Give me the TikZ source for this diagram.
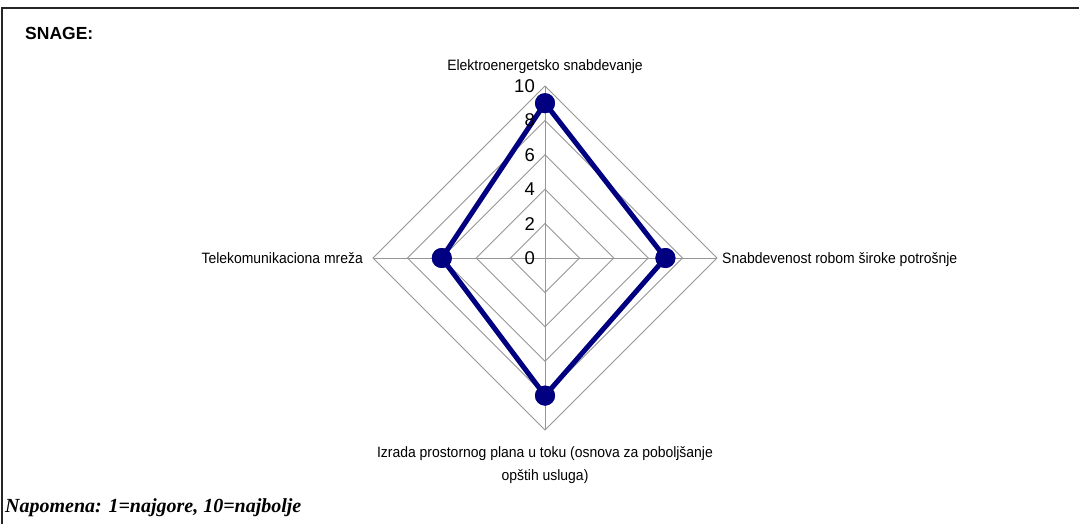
\documentclass[tikz,border=0pt]{standalone}
\usepackage{fontspec}
\setmainfont{Liberation Sans}
\newfontfamily\labfont[FakeStretch=0.93]{Liberation Sans}
\newfontfamily\notefont{Liberation Serif}
\definecolor{gridgray}{RGB}{150,150,150}
\definecolor{seriesblue}{RGB}{0,0,128}
\tikzset{
  frameline/.style={draw=black!85, line width=1.8pt},
  gridline/.style={draw=gridgray, line width=0.9pt},
  seriesline/.style={draw=seriesblue, line width=5pt, line join=round},
  marker/.style={circle, fill=seriesblue, minimum size=20pt, inner sep=0pt},
  ticklabel/.style={anchor=east, inner sep=0pt, font=\fontsize{18.5}{20}\selectfont},
  catlabel/.style={inner sep=0pt, font=\labfont\fontsize{15}{23}\selectfont},
}
\begin{document}
\begin{tikzpicture}[x=1pt, y=-1pt]
  \useasboundingbox (0,0) rectangle (1079,524);
  \fill[white] (0,0) rectangle (1079,524);
  % outer frame (top and left edges)
  \draw[frameline] (2,524) -- (2,8) -- (1079,8);

  % radar chart: centre and axis tips (radius 172 for the value 10)
  \def\unit{17.2}
  \coordinate (c) at (545,258);
  \coordinate (tipN) at (545,86);
  \coordinate (tipE) at (717,258);
  \coordinate (tipS) at (545,430);
  \coordinate (tipW) at (373,258);

  % concentric diamonds at 2, 4, ..., 10
  \foreach \k in {2,4,6,8,10}
    \draw[gridline] (545,{258-\unit*\k}) -- ({545+\unit*\k},258)
      -- (545,{258+\unit*\k}) -- ({545-\unit*\k},258) -- cycle;
  % spokes
  \foreach \t in {tipN,tipE,tipS,tipW}
    \draw[gridline] (c) -- (\t);

  % data points: 9, 7, 8, 6
  \node[marker] (pN) at (545,{258-\unit*9}) {};
  \node[marker] (pE) at ({545+\unit*7},258) {};
  \node[marker] (pS) at (545,{258+\unit*8}) {};
  \node[marker] (pW) at ({545-\unit*6},258) {};
  \draw[seriesline] (pN.center) -- (pE.center) -- (pS.center) -- (pW.center) -- cycle;
  \foreach \p in {pN,pE,pS,pW}
    \node[marker] at (\p) {};

  % scale labels
  \foreach \k in {0,2,4,6,8,10}
    \node[ticklabel] (tick\k) at (535,{258-\unit*\k}) {\k};

  % axis category labels
  \node[catlabel, anchor=base] (labN) at (545,70.5) {Elektroenergetsko snabdevanje};
  \node[catlabel, anchor=base east] (labW) at (363,263) {Telekomunikaciona mreža};
  \node[catlabel, anchor=base west] (labE) at (722,263) {Snabdevenost robom široke potrošnje};
  \node[catlabel, anchor=base, align=center] (labS) at (545,480)
    {Izrada prostornog plana u toku (osnova za poboljšanje\\opštih usluga)};

  % title and footnote
  \node[anchor=base west, inner sep=0pt, font=\bfseries\fontsize{17.5}{20}\selectfont]
    (title) at (25,40) {SNAGE:};
  \node[anchor=base west, inner sep=0pt, font=\notefont\bfseries\itshape\fontsize{20}{22}\selectfont]
    (note) at (5,512) {Napomena: 1=najgore, 10=najbolje};
\end{tikzpicture}
\end{document}
